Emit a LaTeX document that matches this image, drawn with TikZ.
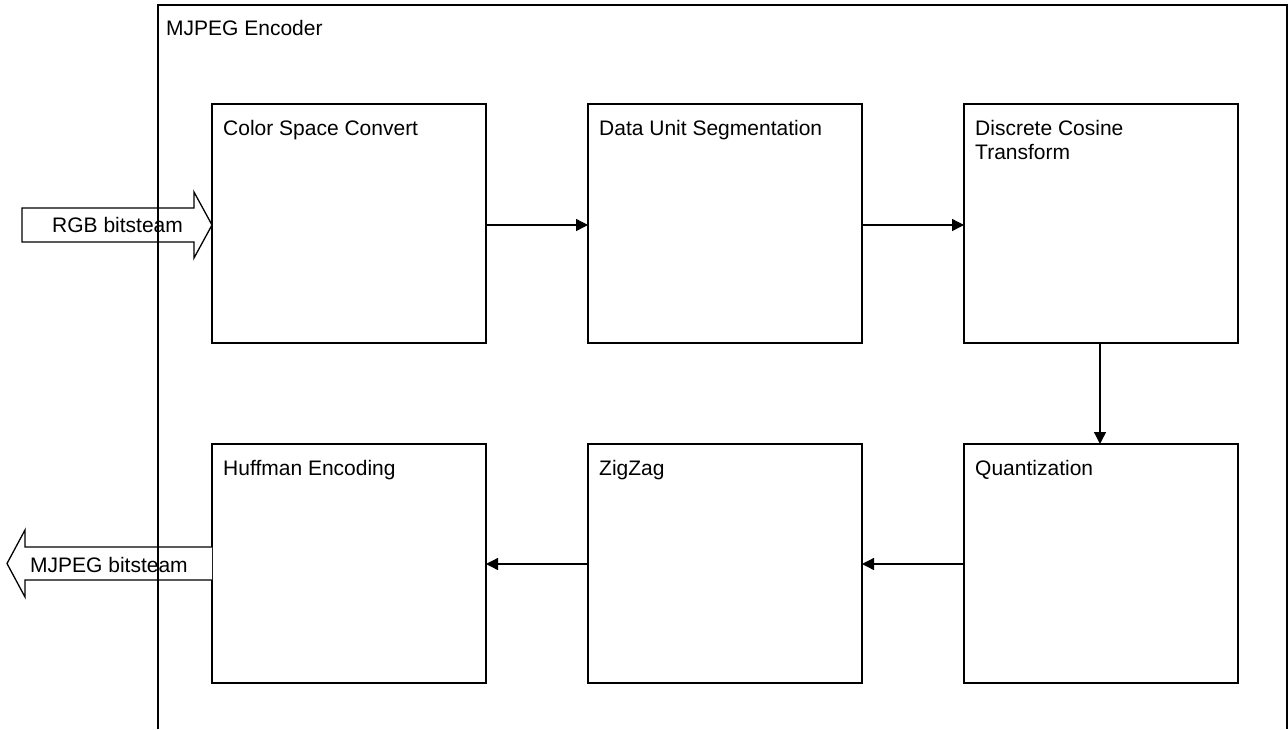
\documentclass[tikz,border=0pt]{standalone}
\usepackage{fontspec}
\setmainfont{Liberation Sans}
\usetikzlibrary{arrows.meta,calc}
\begin{document}
\begin{tikzpicture}[x=1pt,y=-1pt,
  stagebox/.style={draw,line width=1.3pt,minimum width=274pt,minimum height=239pt,inner sep=0pt,outer sep=0pt},
  lbl/.style={anchor=base west,inner sep=0pt,font=\fontsize{21pt}{24pt}\selectfont},
  flow/.style={draw,line width=1.3pt,-{Triangle[length=12pt,width=12pt]}},
  blockarrow/.style={draw,line width=1.3pt,fill=white,line join=miter}]
\useasboundingbox (0,0) rectangle (1288,729);
% outer frame
\draw[line width=1.3pt] (158,729) -- (158,5) coordinate (tl) -- (1287,5) -- (1287,729);
\node[lbl] (title) at (166,35) {MJPEG Encoder};
% boxes
\node[stagebox] (csc) at (349,223.5) {};
\node[stagebox] (dus) at (725,223.5) {};
\node[stagebox] (dct) at (1101,223.5) {};
\node[stagebox] (huf) at (349,563.5) {};
\node[stagebox] (zz)  at (725,563.5) {};
\node[stagebox] (qnt) at (1101,563.5) {};
% labels
\node[lbl] at ($(csc.north west)+(11,31)$) {Color Space Convert};
\node[lbl] at ($(dus.north west)+(11,31)$) {Data Unit Segmentation};
\node[lbl] at ($(dct.north west)+(11,31)$) {Discrete Cosine};
\node[lbl] at ($(dct.north west)+(11,55)$) {Transform};
\node[lbl] at ($(huf.north west)+(11,31)$) {Huffman Encoding};
\node[lbl] at ($(zz.north west)+(11,31)$) {ZigZag};
\node[lbl] at ($(qnt.north west)+(11,31)$) {Quantization};
% connectors
\draw[flow] ($(csc.east)+(0,1.5)$) -- ($(dus.west)+(0,1.5)$);
\draw[flow] ($(dus.east)+(0,1.5)$) -- ($(dct.west)+(0,1.5)$);
\draw[flow] ($(dct.south)+(-1,0)$) -- ($(qnt.north)+(-1,0)$);
\draw[flow] ($(qnt.west)+(0,0.5)$) -- ($(zz.east)+(0,0.5)$);
\draw[flow] ($(zz.west)+(0,0.5)$) -- ($(huf.east)+(0,0.5)$);
% input block arrow
\coordinate (intip) at ($(csc.west)+(0,1.5)$);
\draw[blockarrow] (intip) -- ++(-18,-33) -- ++(0,16) -- ++(-172,0) -- ++(0,34) -- ++(172,0) -- ++(0,16) -- cycle;
\node[lbl] (rgb) at (52,232) {RGB bitsteam};
% output block arrow
\coordinate (outbase) at (huf.west);
\draw[blockarrow] ($(outbase)+(0,-16.5)$) -- (25,547) -- (25,530) -- (7,563.5) -- (25,597) -- (25,580) -- ($(outbase)+(0,16.5)$);
\node[lbl] (mjpeg) at (30,572) {MJPEG bitsteam};
% redraw frame line over arrows
\draw[line width=1.3pt] (158,729) -- (tl);
\end{tikzpicture}
\end{document}
